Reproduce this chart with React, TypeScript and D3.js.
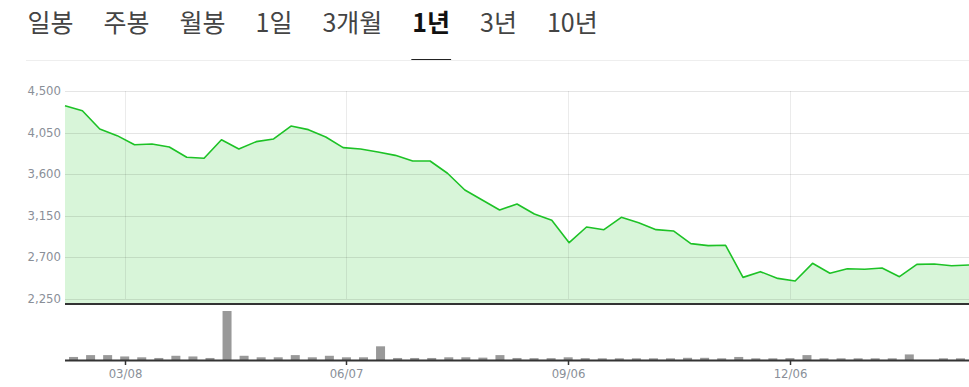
import React, { useEffect, useRef } from "react";
import * as d3 from "d3";

const TAB_LABELS = ["일봉", "주봉", "월봉", "1일", "3개월", "1년", "3년", "10년"];
const ACTIVE_TAB = "1년";

const Y_TICKS = [2250, 2700, 3150, 3600, 4050, 4500];
const X_TICK_INDEX = [3, 16, 29, 42];
const X_TICK_LABELS = ["03/08", "06/07", "09/06", "12/06"];

// weekly closing prices (53 weeks)
const PRICES = [
  4341, 4287, 4089, 4017, 3919, 3927, 3894, 3783, 3772, 3973,
  3873, 3952, 3981, 4121, 4082, 4003, 3887, 3873, 3840, 3804,
  3743, 3743, 3610, 3429, 3321, 3213, 3278, 3169, 3101, 2859,
  3029, 3000, 3134, 3076, 3000, 2986, 2849, 2827, 2831, 2484,
  2546, 2473, 2445, 2636, 2528, 2578, 2571, 2585, 2491, 2625,
  2629, 2610, 2618,
];

// weekly volume (53 weeks)
const VOLUMES = [
  180, 290, 290, 210, 160, 120, 250, 210, 120, 2900,
  250, 160, 160, 290, 160, 250, 160, 160, 810, 120,
  120, 120, 160, 160, 140, 290, 120, 110, 110, 160,
  110, 100, 100, 100, 100, 100, 130, 130, 100, 180,
  100, 100, 110, 290, 100, 100, 100, 100, 100, 330,
  0, 100, 100,
];

const W = 969;
const H = 387;

export default function App() {
  const ref = useRef<SVGSVGElement | null>(null);

  useEffect(() => {
    const svg = d3.select(ref.current);
    svg.selectAll("*").remove();

    const left = 65;
    const right = W;
    const priceTop = 91;
    const priceBottom = 299;
    const plotBottom = 304;
    const volTop = 311;
    const volBottom = 360;

    const idx = d3.range(PRICES.length);
    const xPoint = d3.scalePoint<number>().domain(idx).range([left, right]);
    const xBand = d3.scaleBand<number>().domain(idx).range([left, right]);
    const bw = xBand.bandwidth();
    const y = d3.scaleLinear().domain([2250, 4500]).range([priceBottom, priceTop]);
    const yVol = d3
      .scaleLinear()
      .domain([0, d3.max(VOLUMES) as number])
      .range([volBottom, volTop]);

    // tabs
    const tabG = svg.append("g");
    let cx = 27.5;
    const gap = 30;
    TAB_LABELS.forEach((t) => {
      const active = t === ACTIVE_TAB;
      const txt = tabG
        .append("text")
        .attr("x", cx)
        .attr("y", 32)
        .attr("font-family", "'Noto Sans CJK KR', 'Noto Sans', sans-serif")
        .attr("font-size", 25)
        .attr("font-weight", active ? 700 : 400)
        .attr("fill", active ? "#111" : "#444")
        .text(t);
      const w = (txt.node() as SVGTextElement).getComputedTextLength();
      if (active) {
        tabG
          .append("line")
          .attr("x1", cx - 1)
          .attr("x2", cx + w + 1)
          .attr("y1", 60)
          .attr("y2", 60)
          .attr("stroke", "#222")
          .attr("stroke-width", 2);
      }
      cx += w + gap;
    });

    // separator
    svg
      .append("line")
      .attr("x1", 26)
      .attr("x2", W)
      .attr("y1", 60.5)
      .attr("y2", 60.5)
      .attr("stroke", "#eeeeee")
      .attr("stroke-width", 1);

    // area + line
    const area = d3
      .area<number>()
      .x((d, i) => xPoint(i) as number)
      .y0(plotBottom)
      .y1((d) => y(d));
    svg.append("path").datum(PRICES).attr("d", area).attr("fill", "#d8f5d9");

    // grid
    const grid = svg.append("g");
    Y_TICKS.forEach((v) => {
      grid
        .append("line")
        .attr("x1", left)
        .attr("x2", right)
        .attr("y1", Math.round(y(v)) + 0.5)
        .attr("y2", Math.round(y(v)) + 0.5)
        .attr("stroke", "rgba(0,0,0,0.1)");
    });
    X_TICK_INDEX.forEach((i) => {
      const xx = Math.round((xBand(i) as number) + bw / 2) + 0.5;
      grid
        .append("line")
        .attr("x1", xx)
        .attr("x2", xx)
        .attr("y1", priceTop)
        .attr("y2", priceBottom)
        .attr("stroke", "rgba(0,0,0,0.08)");
    });

    const line = d3
      .line<number>()
      .x((d, i) => xPoint(i) as number)
      .y((d) => y(d));
    svg
      .append("path")
      .datum(PRICES)
      .attr("d", line)
      .attr("fill", "none")
      .attr("stroke", "#1dc226")
      .attr("stroke-width", 1.6)
      .attr("stroke-linejoin", "round");

    // y labels
    svg
      .append("g")
      .selectAll("text")
      .data(Y_TICKS)
      .join("text")
      .attr("x", 61)
      .attr("y", (d) => y(d))
      .attr("dy", "0.35em")
      .attr("text-anchor", "end")
      .attr("font-family", "'DejaVu Sans', sans-serif")
      .attr("font-size", 11.7)
      .attr("fill", "#8a8f98")
      .text((d) => d3.format(",")(d));

    // price bottom axis line
    svg
      .append("line")
      .attr("x1", left)
      .attr("x2", right)
      .attr("y1", plotBottom)
      .attr("y2", plotBottom)
      .attr("stroke", "#333")
      .attr("stroke-width", 2);

    // volume bars
    svg
      .append("g")
      .selectAll("rect")
      .data(VOLUMES)
      .join("rect")
      .attr("x", (d, i) => (xBand(i) as number) + bw / 2 - 4.5)
      .attr("width", 9)
      .attr("y", (d) => yVol(d))
      .attr("height", (d) => volBottom - yVol(d))
      .attr("fill", "#999999");

    svg
      .append("line")
      .attr("x1", left)
      .attr("x2", right)
      .attr("y1", volBottom + 0.5)
      .attr("y2", volBottom + 0.5)
      .attr("stroke", "#333")
      .attr("stroke-width", 2);

    // x ticks
    const xt = svg.append("g");
    X_TICK_INDEX.forEach((i, k) => {
      const xx = Math.round((xBand(i) as number) + bw / 2) + 0.5;
      xt.append("line")
        .attr("x1", xx)
        .attr("x2", xx)
        .attr("y1", volBottom + 1)
        .attr("y2", volBottom + 5)
        .attr("stroke", "#333")
        .attr("stroke-width", 1.5);
      xt.append("text")
        .attr("x", xx)
        .attr("y", 374)
        .attr("dy", "0.35em")
        .attr("text-anchor", "middle")
        .attr("font-family", "'DejaVu Sans', sans-serif")
        .attr("font-size", 11.7)
        .attr("fill", "#8a8f98")
        .text(X_TICK_LABELS[k]);
    });
  }, []);

  return (
    <div style={{ position: "absolute", left: 0, top: 0, width: W, height: H }}>
      <svg ref={ref} width={W} height={H} style={{ display: "block" }} />
    </div>
  );
}
